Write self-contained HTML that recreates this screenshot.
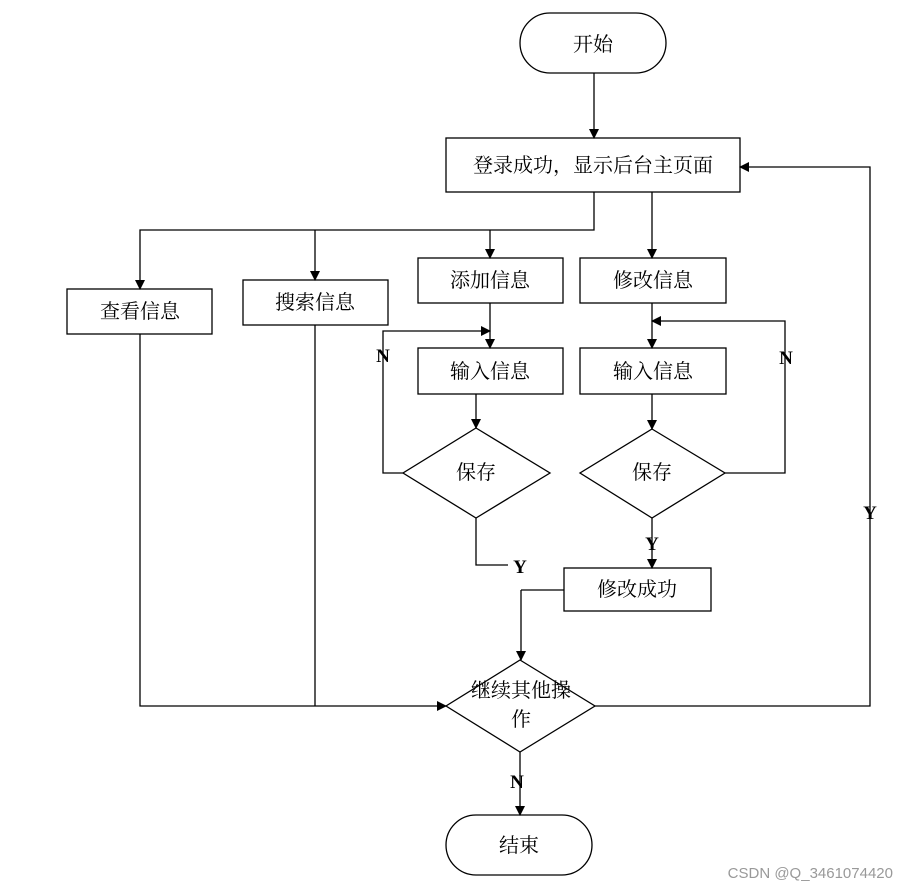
<!DOCTYPE html>
<html><head><meta charset="utf-8"><style>
body{margin:0;background:#fff;width:908px;height:891px;overflow:hidden}
text{font-family:"Liberation Serif","Noto Serif CJK SC",serif;font-size:20px;fill:#000}
.l{font-weight:bold;font-size:19px}
</style></head><body>
<svg width="908" height="891" xmlns="http://www.w3.org/2000/svg">
<defs><marker id="a" markerWidth="10" markerHeight="10" refX="9" refY="5" orient="auto" markerUnits="userSpaceOnUse"><path d="M0,0 L10,5 L0,10z" fill="#000"/></marker></defs>
<g fill="none" stroke="#000" stroke-width="1.3">
<rect x="520" y="13" width="146" height="60" rx="30"/>
<rect x="446" y="138" width="294" height="54"/>
<rect x="67" y="289" width="145" height="45"/>
<rect x="243" y="280" width="145" height="45"/>
<rect x="418" y="258" width="145" height="45"/>
<rect x="580" y="258" width="146" height="45"/>
<rect x="418" y="348" width="145" height="46"/>
<rect x="580" y="348" width="146" height="46"/>
<path d="M476,428 L550,473 L476,518 L403,473z"/>
<path d="M652,429 L725,473 L652,518 L580,473z"/>
<rect x="564" y="568" width="147" height="43"/>
<path d="M520,660 L595,706 L520,752 L446,706z"/>
<rect x="446" y="815" width="146" height="60" rx="30"/>
<g marker-end="url(#a)">
<path d="M594,73 V138"/>
<path d="M594,192 V230 H140 V289"/>
<path d="M315,230 V280"/>
<path d="M490,230 V258"/>
<path d="M652,192 V258"/>
<path d="M490,303 V348"/>
<path d="M652,303 V348"/>
<path d="M476,394 V428"/>
<path d="M652,394 V429"/>
<path d="M403,473 H383 V331 H490"/>
<path d="M725,473 H785 V321 H652"/>
<path d="M652,518 V568"/>
<path d="M521,590 V660"/>
<path d="M140,334 V706 H446"/>
<path d="M595,706 H870 V167 H740"/>
<path d="M520,752 V815"/>
</g>
<path d="M476,518 V565 H508"/>
<path d="M564,590 H521"/>
<path d="M315,325 V706"/>
</g>
<text x="593" y="51" text-anchor="middle">开始</text>
<text x="593" y="172" text-anchor="middle">登录成功，显示后台主页面</text>
<text x="140" y="318" text-anchor="middle">查看信息</text>
<text x="315" y="309" text-anchor="middle">搜索信息</text>
<text x="490" y="287" text-anchor="middle">添加信息</text>
<text x="653" y="287" text-anchor="middle">修改信息</text>
<text x="490" y="378" text-anchor="middle">输入信息</text>
<text x="653" y="378" text-anchor="middle">输入信息</text>
<text x="476" y="479" text-anchor="middle">保存</text>
<text x="652" y="479" text-anchor="middle">保存</text>
<text x="637" y="596" text-anchor="middle">修改成功</text>
<text x="521" y="697" text-anchor="middle">继续其他操</text>
<text x="521" y="726" text-anchor="middle">作</text>
<text x="519" y="852" text-anchor="middle">结束</text>
<text class="l" x="383" y="362" text-anchor="middle">N</text>
<text class="l" x="786" y="364" text-anchor="middle">N</text>
<text class="l" x="520" y="573" text-anchor="middle">Y</text>
<text class="l" x="652" y="550" text-anchor="middle">Y</text>
<text class="l" x="870" y="519" text-anchor="middle">Y</text>
<text class="l" x="517" y="788" text-anchor="middle">N</text>
<text x="893" y="878" text-anchor="end" style="font-family:'Liberation Sans',sans-serif;font-size:15px;fill:#999">CSDN @Q_3461074420</text>
</svg>
</body></html>
